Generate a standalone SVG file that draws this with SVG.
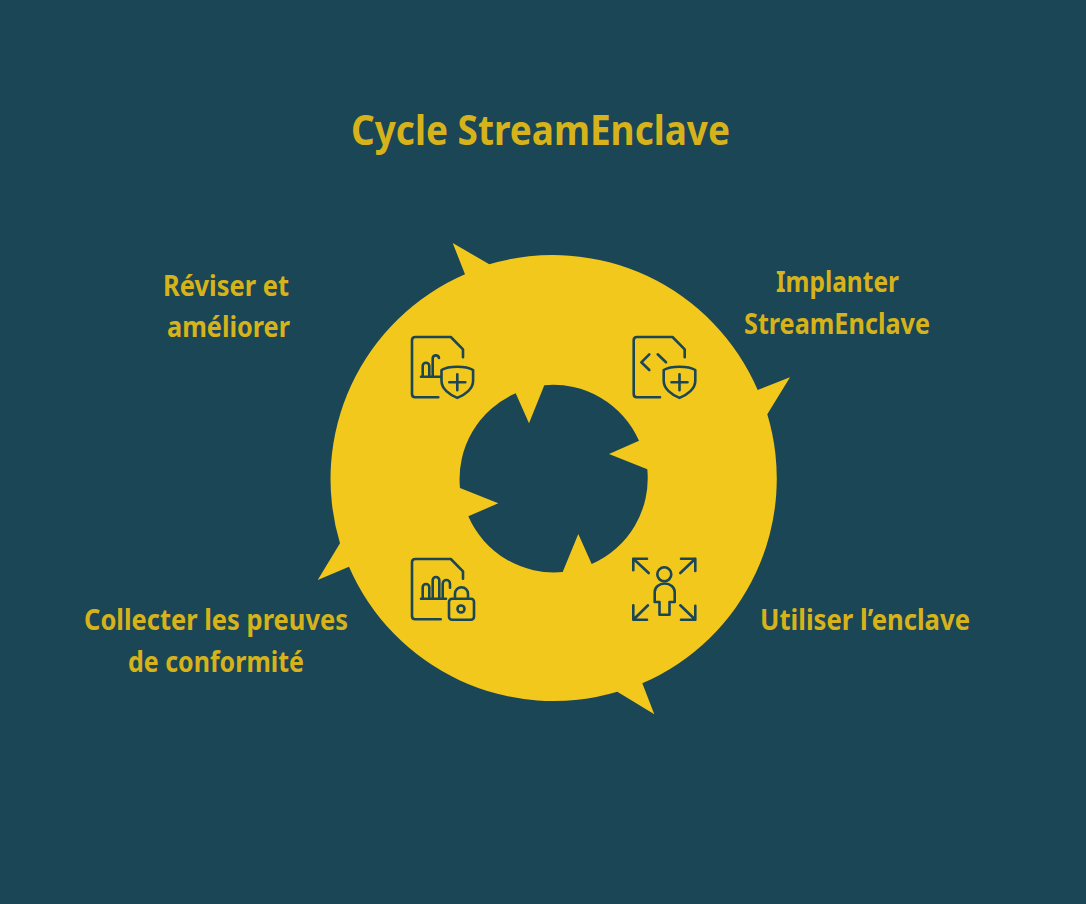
<svg xmlns="http://www.w3.org/2000/svg" width="1086" height="904" viewBox="0 0 1086 904">
<style>
.t{font-family:"Noto Sans","Open Sans","Liberation Sans",sans-serif;font-weight:700;fill:#D6B31B;text-anchor:start}
.l{font-size:29px}
.i{fill:none;stroke:#1B4655;stroke-width:2.6;stroke-linecap:round;stroke-linejoin:round}
</style>
<defs>
<path id="doc" d="M0 0H-23C-25 0 -26.300 -1.300 -26.300 -3.300V-57C-26.300 -59 -25 -60.300 -23 -60.300H12.500L24.700 -48V-40"/>
<g id="shield"><path d="M0 -15.600C6 -15.600 12.500 -14.300 15.800 -12.300V-1.500C15.800 6.500 8 12.500 0 15.600C-8 12.500 -15.800 6.500 -15.800 -1.500V-12.300C-12.500 -14.300 -6 -15.600 0 -15.600Z"/><path d="M0 -8V8M-8 0H8"/></g>
</defs>
<rect width="1086" height="904" fill="#1B4655"/>
<text id="title" class="t" x="351" y="145" font-size="42" textLength="379" lengthAdjust="spacingAndGlyphs">Cycle StreamEnclave</text>
<g id="connectors">
<path fill="#F2C81C" fill-rule="evenodd" d="M489.300 264.300A223 223 0 0 1 757.700 390L790 377.300L767.300 414.300A223 223 0 0 1 642.300 683.300L654.300 714.300L617.300 691.700A223 223 0 0 1 349 566.700L317.700 580L340 543.300A223 223 0 0 1 465 274.300L452.700 243ZM515.700 393.300L529 423.300L544.300 385.300A93.500 93.500 0 0 1 639 440.700L609 454L647.300 469.300A93.500 93.500 0 0 1 591.700 564L578.300 534L562.700 572A93.500 93.500 0 0 1 468.300 516.300L498.300 503.300L460 488A93.500 93.500 0 0 1 515.700 393.300Z"/>
</g>
<g id="node-implanter">
<g class="i">
<use href="#doc" x="660" y="397.300"/>
<path d="M649.300 354.300L641.300 362.300L649.300 370M657.700 354.300L666 362.300"/>
<use href="#shield" x="679.500" y="382.300"/>
</g>
<text class="t l" x="776" y="292" textLength="123" lengthAdjust="spacingAndGlyphs">Implanter</text>
<text class="t l" x="744" y="334" textLength="186" lengthAdjust="spacingAndGlyphs">StreamEnclave</text>
</g>
<g id="node-utiliser">
<g class="i">
<circle cx="664.300" cy="574.300" r="7"/>
<path d="M659.500 614.700V602H654.700V592A10 8.500 0 0 1 674.700 592V602H669.500V614.700Z"/>
<path d="M648.700 573L633.300 558.700M633.300 570.300V558.700H647M680.300 573L695.300 558.700M681 558.700H695.300V571M648 605.300L633.300 619.700M633.300 605.300V619.700H647M680.300 605.300L695.300 619.700M681 619.700H695.300V605.700"/>
</g>
<text class="t l" x="760" y="630" textLength="210" lengthAdjust="spacingAndGlyphs">Utiliser l’enclave</text>
</g>
<g id="node-collecter">
<g class="i">
<path d="M440.700 619.300H415.300C413.300 619.300 412 618 412 616V562.300C412 560.300 413.300 559 415.300 559H450.800L463 571.300V578.700"/>
<path d="M421 598.700H446M422.700 598.700V587.300A3.300 3.300 0 0 1 429.300 587.300V598.700M432.700 598.700V580.300A3.300 3.300 0 0 1 439.300 580.300V598.700M442.700 598.700V583.700A3.600 3.600 0 0 1 450 583.700V587.700"/>
<rect x="449" y="598.700" width="25" height="21" rx="3"/>
<path d="M455 598.700V593.700A6.500 6.500 0 0 1 468 593.700V598.700"/>
<circle cx="461" cy="609" r="3.500"/>
</g>
<text class="t l" x="84" y="630" textLength="264" lengthAdjust="spacingAndGlyphs">Collecter les preuves</text>
<text class="t l" x="128" y="672" textLength="176" lengthAdjust="spacingAndGlyphs">de conformité</text>
</g>
<g id="node-reviser">
<g class="i">
<use href="#doc" x="438.300" y="397.300"/>
<path d="M421 376.700H440M422.700 376.700V366A3.300 3.300 0 0 1 429.300 366V376.700M432.700 376.700V358A3.200 3.200 0 0 1 439 358"/>
<use href="#shield" x="457.300" y="382.300"/>
</g>
<text class="t l" x="163" y="296" textLength="126" lengthAdjust="spacingAndGlyphs">Réviser et</text>
<text class="t l" x="167" y="337" textLength="123" lengthAdjust="spacingAndGlyphs">améliorer</text>
</g>
</svg>
